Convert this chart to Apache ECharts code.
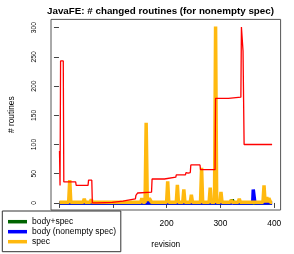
<!DOCTYPE html>
<html>
<head>
<meta charset="utf-8">
<script src="https://cdn.jsdelivr.net/npm/echarts@6/dist/echarts.min.js"></script>
<style>html,body{margin:0;padding:0;background:#fff}#c{width:294px;height:254px}</style>
</head>
<body>
<div id="c"></div>
<script>
// ---- data ----
const titleText = 'JavaFE: # changed routines (for nonempty spec)';
const xTicks = [0, 100, 200, 300, 400];
const yTicks = [0, 50, 100, 150, 200, 250, 300];

// red line (unlabelled total)
const totalRev = [1,2,3,8,9,31,32,54,55,61,62,72,73,99,100,119,120,126,127,142,143,146,172,173,196,197,217,218,235,236,238,240,244,245,262,263,290,291,315,316,338,339,341,342,344,355,356,357,376,377,378,396];
const totalVal = [89,30,243,243,36,36,30,30,39,39,0,0,1,1,3,3,4.5,4.5,7,7,13,17,18.5,41,41,44,44,48,48,52,50,51,52,65,65,57,57,179,179,181,181,301,301,260,100,100,103,100,100,102,100,100];

// spec (orange)
const specRev = [1,18,20,22,45,47,49,58,60,62,100,152,154,156,160,162,164,166,168,170,172,200,202,204,218,220,222,230,232,234,244,246,248,263,265,267,279,281,283,289,291,293,299,301,303,318,320,322,333,335,337,360,379,381,383,386,388,390,393,396];
const specVal = [1,1,39,1,1,7,1,1,6,1,1,1,8,1,1,137,10,4,8,5,1,1,37,1,1,31,1,1,23,1,1,14,1,1,60,1,1,26,1,1,302,1,1,19,1,1,5,1,1,7,1,1,1,30,1,10,1,8,1,1];

// body (nonempty spec) (blue)
const bodyRev = [1,360,361,363,364,396];
const bodyVal = [0,0,23,23,0,0];

// body+spec (green)
const bothRev = [1,320,322,324,396];
const bothVal = [0,0,6,0,0];

const legendNames = ['body+spec', 'body (nonempty spec)', 'spec'];

function zip(a, b) { return a.map((v, i) => [v, b[i]]); }

const FONT = 'Liberation Sans';
const chart = echarts.init(document.getElementById('c'), null, {renderer: 'canvas'});
chart.setOption({
  animation: false,
  backgroundColor: '#fff',
  textStyle: {fontFamily: FONT},
  title: {
    text: titleText, left: 42, top: 1,
    textStyle: {fontFamily: FONT, fontSize: 9.8, fontWeight: 'bold', color: '#000'}
  },
  grid: {left: 41, right: 13.4, top: 19.4, bottom: 40.8, show: true, borderColor: '#555', borderWidth: 1, backgroundColor: 'transparent'},
  xAxis: {
    type: 'value', min: -14.8, max: 411.8,
    name: 'revision', nameLocation: 'middle', nameGap: 31,
    nameTextStyle: {fontFamily: FONT, fontSize: 8.4, color: '#000'},
    splitLine: {show: false},
    axisLine: {show: false},
    axisTick: {show: true, customValues: xTicks, length: 5, lineStyle: {color: '#444'}},
    axisLabel: {customValues: xTicks, fontSize: 8.4, color: '#000', margin: 10, fontFamily: FONT}
  },
  yAxis: {
    type: 'value', min: -12.08, max: 314.1,
    name: '# routines', nameLocation: 'middle', nameGap: 35, nameRotate: 90,
    nameTextStyle: {fontFamily: FONT, fontSize: 8.4, color: '#000'},
    splitLine: {show: false},
    axisLine: {show: false},
    axisTick: {show: true, customValues: yTicks, length: 5, lineStyle: {color: '#444'}},
    axisLabel: {customValues: yTicks, fontSize: 6.8, color: '#000', margin: 13, rotate: 90, fontFamily: FONT}
  },
  legend: {
    data: legendNames,
    orient: 'vertical', left: 2.3, top: 211,
    padding: [5.7, 4.7, 5, 5.7],
    itemGap: 0, itemWidth: 19, itemHeight: 3.5, icon: 'rect',
    backgroundColor: '#fff', borderColor: '#333', borderWidth: 1, borderRadius: 0,
    textStyle: {fontFamily: FONT, fontSize: 8.5, lineHeight: 10, color: '#000'}
  },
  series: [
    {name: 'body+spec', type: 'line', data: zip(bothRev, bothVal), showSymbol: false, color: '#006400', lineStyle: {width: 3.5, color: '#006400'}, z: 2},
    {name: 'body (nonempty spec)', type: 'line', data: zip(bodyRev, bodyVal), showSymbol: false, color: '#0000FF', lineStyle: {width: 3.5, color: '#0000FF'}, z: 2},
    {name: 'spec', type: 'line', data: zip(specRev, specVal), showSymbol: false, color: '#FFB90F', lineStyle: {width: 3.5, color: '#FFB90F'}, z: 2},
    {name: 'total', type: 'line', data: zip(totalRev, totalVal), showSymbol: false, color: '#FF0000', lineStyle: {width: 1.3, color: '#FF0000'}, z: 3}
  ]
});
</script>
</body>
</html>
